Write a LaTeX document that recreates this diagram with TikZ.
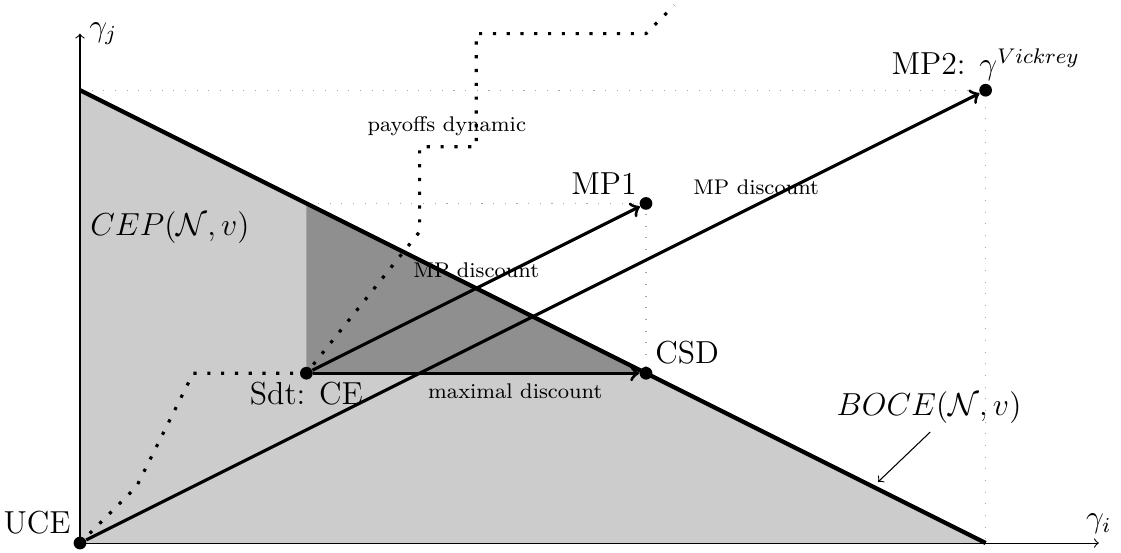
\documentclass[tikz,border=0pt]{standalone}
\usetikzlibrary{calc}
\begin{document}
\begin{tikzpicture}[x=0.75cm,y=0.75cm,
  dot/.style={circle,fill=black,inner sep=0pt,minimum size=4.8pt},
  region/.style={fill=black!20,draw=none},
  coreregion/.style={fill=black!44,draw=none},
  guide/.style={draw=black!35,loosely dotted,line width=0.4pt},
  frontier/.style={line width=1.6pt},
  discarrow/.style={->,very thick},
  dynpath/.style={very thick,loosely dotted},
  smalllbl/.style={font=\footnotesize},
  lbl/.style={font=\large},
  axis/.style={->}]
\useasboundingbox (-1.413,-0.159) rectangle (18.392,9.594);
% regions
\fill[region] (0,0) -- (0,8) -- (16,0) -- cycle;
\fill[coreregion] (4,3) -- (4,6) -- (10,3) -- cycle;
% points
\coordinate (O) at (0,0);
\coordinate (xend) at (18,0);
\coordinate (yend) at (0,9);
\coordinate (top) at (0,8);
\coordinate (bot) at (16,0);
\coordinate (cetop) at (4,6);
% guides
\draw[guide] (top) -- (16,8) -- (bot);
\draw[guide] (cetop) -- (10,6) -- (10,3);
% frontier
\draw[frontier] (top) -- (bot);
% axes
\draw[axis] (O) -- (xend);
\draw[axis] (O) -- (yend);
\node[lbl,anchor=west,inner sep=3.3pt] (gj) at (yend) {$\gamma_j$};
\node[lbl,above,inner sep=3.3pt] (gi) at (xend) {$\gamma_i$};
% dots
\node[dot] (uce) at (0,0) {};
\node[dot] (sdt) at (4,3) {};
\node[dot] (csd) at (10,3) {};
\node[dot] (mp1) at (10,6) {};
\node[dot] (mp2) at (16,8) {};
% dynamic path
\draw[dynpath] (uce.center) -- (1,1) -- (2,3) -- (sdt.center) -- (6,5.5) -- (6,7) -- (7,7) -- (7,9) -- (10,9) -- (10.5,9.5);
\node[smalllbl] (pd) at (6.48,7.36) {payoffs dynamic};
% arrows
\draw[discarrow] (uce) -- (mp2) node[pos=0.75,above,smalllbl] {MP discount};
\draw[discarrow] (sdt) -- (mp1) node[midway,above,smalllbl] {MP discount};
\draw[discarrow] (sdt) -- (csd) node[pos=0.62,below,smalllbl] {maximal discount};
% labels
\node[lbl,above left,inner sep=3.3pt] at (uce) {UCE};
\node[lbl,below,inner sep=3.3pt] at (sdt.center) {Sdt: CE};
\node[lbl,above right,inner sep=3.3pt] at (csd.center) {CSD};
\node[lbl,above left,inner sep=3.3pt] at (mp1.center) {MP1};
\node[lbl,above,inner sep=3.3pt] at (mp2.center) {MP2: $\gamma^{Vickrey}$};
\node[lbl] (cep) at (1.59,5.57) {$CEP(\mathcal{N},v)$};
\node[lbl] (boce) at (15,2.4) {$BOCE(\mathcal{N},v)$};
\coordinate (bocetip) at (14.1,1.08);
\coordinate (bocestart) at (15.02,1.96);
\draw[->] (bocestart) -- (bocetip);
\end{tikzpicture}
\end{document}
